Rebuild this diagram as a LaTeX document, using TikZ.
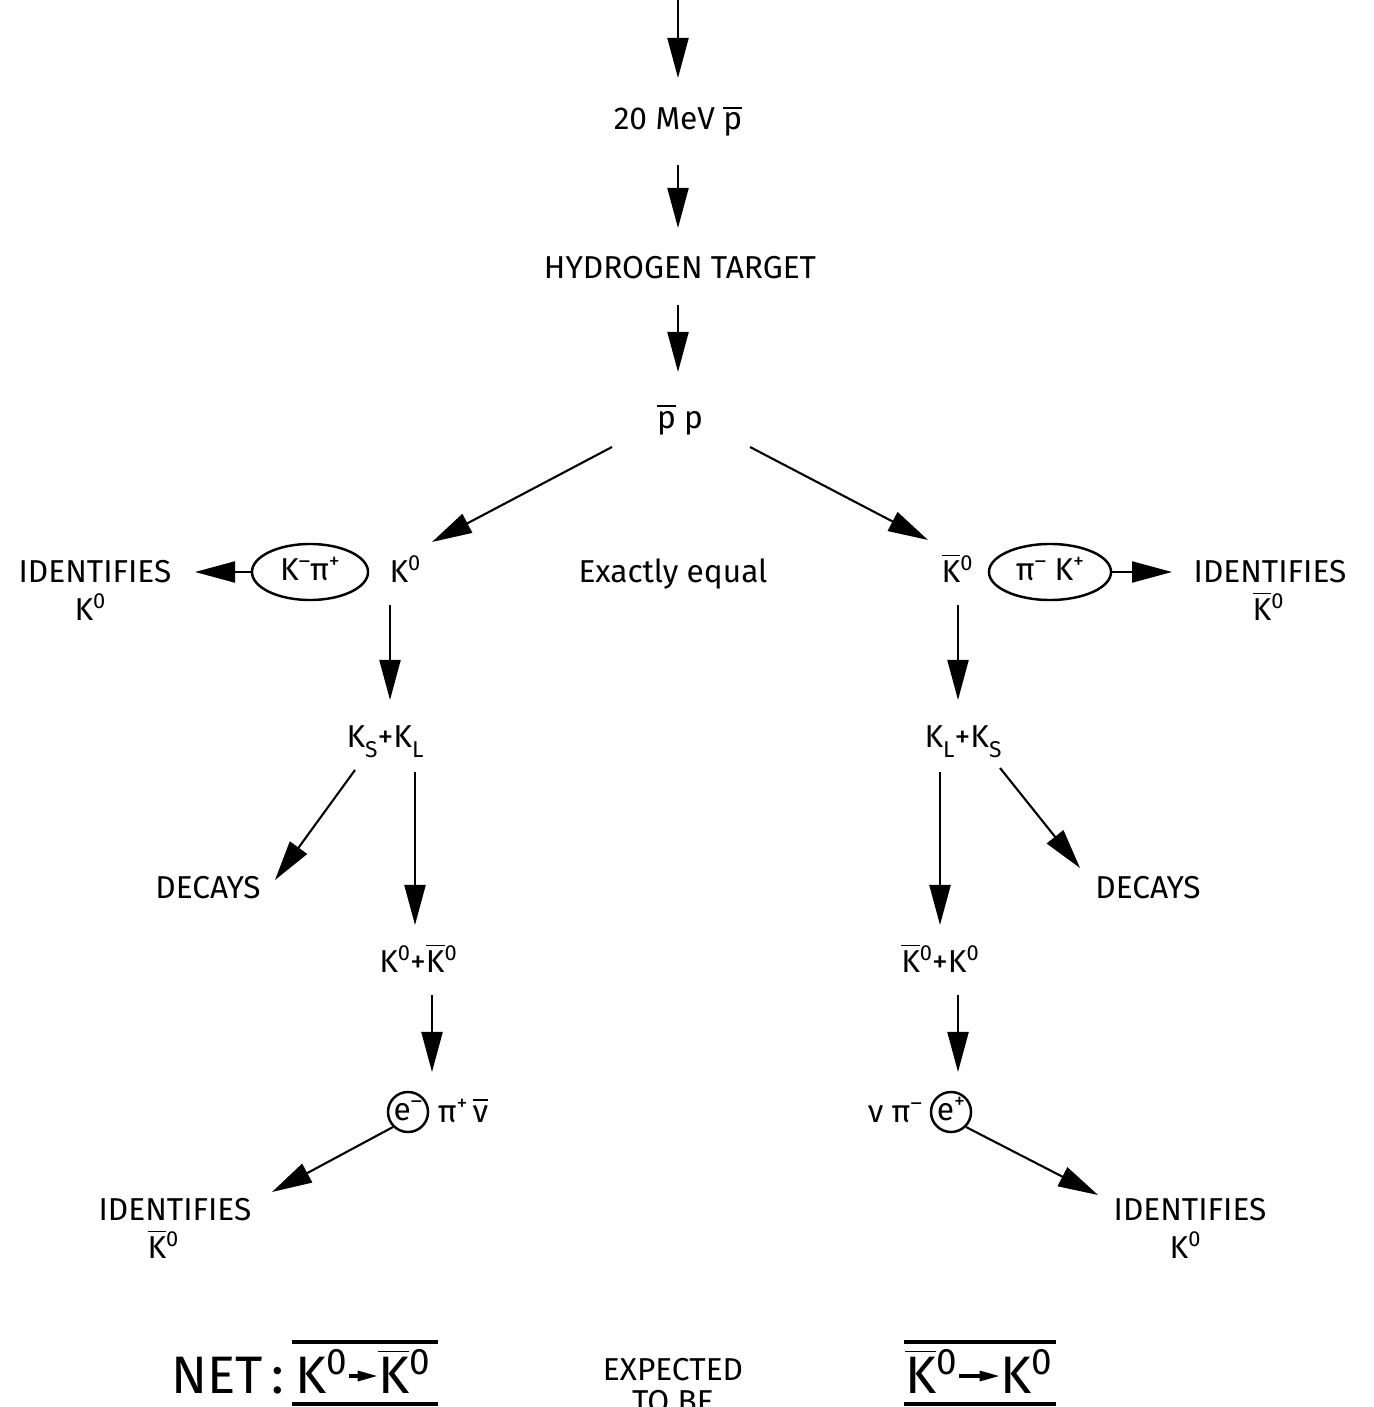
\documentclass[tikz,border=0pt]{standalone}
\usepackage{fontspec}
\setmainfont{Fira Sans}
\usetikzlibrary{arrows.meta,shapes.geometric}
\newcommand{\up}[1]{\raisebox{0.36em}{\fontsize{6.2}{7}\selectfont #1}}
\newcommand{\dn}[1]{\raisebox{-0.33em}{\fontsize{6.5}{7}\selectfont #1}}
\newcommand{\Kzero}{K\up{0}}
\newcommand{\Kbzero}{$\overline{\mbox{K}}$\up{0}}
\newcommand{\bKzero}{K\textsuperscript{0}}
\newcommand{\bKbzero}{$\overline{\mbox{K}}$\textsuperscript{0}}
\newcommand{\pbar}{$\overline{\mbox{p}}$}
\newcommand{\nubar}{$\overline{\mbox{ν}}$}
\begin{document}
\begin{tikzpicture}[x=0.01cm,y=-0.01cm,
  every node/.style={inner sep=0pt},
  txt/.style={font=\fontsize{9}{11}\selectfont, text height=0.21cm, text depth=0.05cm},
  big/.style={font=\fontsize{15}{18}\selectfont, text height=0.36cm, text depth=0.02cm},
  arr/.style={line width=0.6pt, -{Triangle[length=0.40cm,width=0.21cm]}},
  sarr/.style={line width=0.9pt, -{Triangle[length=0.2cm,width=0.1cm]}},
  oval/.style={ellipse, draw, line width=0.7pt, minimum width=1.16cm, minimum height=0.56cm},
  ring/.style={circle, draw, line width=0.7pt, minimum size=0.40cm},
  rulebox/.style={minimum height=0.60cm},
  rl/.style={line width=1.1pt}]
\useasboundingbox (0,0) rectangle (1373,1407);

% nodes
\coordinate (top) at (678,0);
\node[txt] (n20) at (678,122) {20 MeV \pbar};
\node[txt] (hyd) at (680,271) {HYDROGEN TARGET};
\node[txt] (pp) at (680,420) {\pbar\ p};

\node[txt] (K0L) at (405,574) {\Kzero};
\node[txt,oval] (ellL) at (310,572) {K\up{–}π\up{+}};
\node[txt] (idL) at (95,574) {IDENTIFIES};
\node[txt] (idLk) at (90,612) {\Kzero};

\node[txt] (eq) at (673,574) {Exactly equal};

\node[txt] (K0R) at (957,574) {\Kbzero};
\node[txt,oval,minimum width=1.22cm] (ellR) at (1050,572) {π\up{–} K\up{+}};
\node[txt] (idR) at (1270,574) {IDENTIFIES};
\node[txt] (idRk) at (1268,612) {\Kbzero};

\node[txt] (KSKL) at (385,739) {K\dn{S}+K\dn{L}};
\node[txt] (KLKS) at (963,739) {K\dn{L}+K\dn{S}};

\node[txt] (decL) at (208,890) {DECAYS};
\node[txt] (decR) at (1148,890) {DECAYS};

\node[txt] (KKL) at (418,964) {\Kzero+\Kbzero};
\node[txt] (KKR) at (940,964) {\Kbzero+\Kzero};

\node[txt,ring] (eL) at (408,1112) {e\up{–}};
\node[txt] (restL) at (463,1114) {π\up{+}\,\nubar};
\node[txt] (restR) at (895,1114) {ν π\up{–}};
\node[txt,ring] (eR) at (951,1112) {e\up{+}};

\node[txt] (idL2) at (175,1212) {IDENTIFIES};
\node[txt] (idL2k) at (163,1250) {\Kbzero};
\node[txt] (idR2) at (1190,1212) {IDENTIFIES};
\node[txt] (idR2k) at (1185,1250) {\Kzero};

\node[big] (net) at (228,1376) {NET\kern2.5pt:};
\node[rulebox,minimum width=1.44cm] (boxL) at (365,1373) {};
\node[big] (netLa) at (322,1376) {\bKzero};
\node[big] (netLb) at (405,1376) {\bKbzero};
\node[txt] (exp) at (673,1372) {EXPECTED};
\node[txt] (tobe) at (673,1404) {TO BE};
\node[rulebox,minimum width=1.50cm] (boxR) at (980,1373) {};
\node[big] (netRa) at (932,1376) {\bKbzero};
\node[big] (netRb) at (1027,1376) {\bKzero};

% connectors
\draw[arr] (top) -- ([shift={(0,-44)}]n20.center);
\draw[arr] ([shift={(0,43)}]n20.center) -- ([shift={(-2,-43)}]hyd.center);
\draw[arr] ([shift={(-2,34)}]hyd.center) -- ([shift={(-2,-48)}]pp.center);
\draw[arr] ([shift={(-68,27)}]pp.center) -- ([shift={(27,-32)}]K0L.center);
\draw[arr] ([shift={(70,27)}]pp.center) -- ([shift={(-29,-34)}]K0R.center);
\draw[arr] (ellL.west) -- ([shift={(100,-2)}]idL.center);
\draw[arr] (ellR.east) -- ([shift={(-98,-2)}]idR.center);
\draw[arr] ([shift={(-15,31)}]K0L.center) -- ([shift={(5,-39)}]KSKL.center);
\draw[arr] ([shift={(1,31)}]K0R.center) -- ([shift={(-5,-39)}]KLKS.center);
\draw[arr] ([shift={(-30,31)}]KSKL.center) -- ([shift={(67,-10)}]decL.center);
\draw[arr] ([shift={(30,33)}]KSKL.center) -- ([shift={(-3,-39)}]KKL.center);
\draw[arr] ([shift={(-23,33)}]KLKS.center) -- ([shift={(0,-39)}]KKR.center);
\draw[arr] ([shift={(37,29)}]KLKS.center) -- ([shift={(-68,-22)}]decR.center);
\draw[arr] ([shift={(14,31)}]KKL.center) -- ([shift={(-31,-42)}]restL.center);
\draw[arr] ([shift={(18,31)}]KKR.center) -- ([shift={(7,-40)}]eR.center);
\draw[arr] (eL.south west) -- ([shift={(97,-20)}]idL2.center);
\draw[arr] (eR.south east) -- ([shift={(-92,-17)}]idR2.center);
\draw[sarr] (netLa.east) -- (netLb.west);
\draw[sarr] (netRa.east) -- (netRb.west);
\draw[rl] (boxL.north west) -- (boxL.north east);
\draw[rl] (boxL.south west) -- (boxL.south east);
\draw[rl] (boxR.north west) -- (boxR.north east);
\draw[rl] (boxR.south west) -- (boxR.south east);
\end{tikzpicture}
\end{document}
